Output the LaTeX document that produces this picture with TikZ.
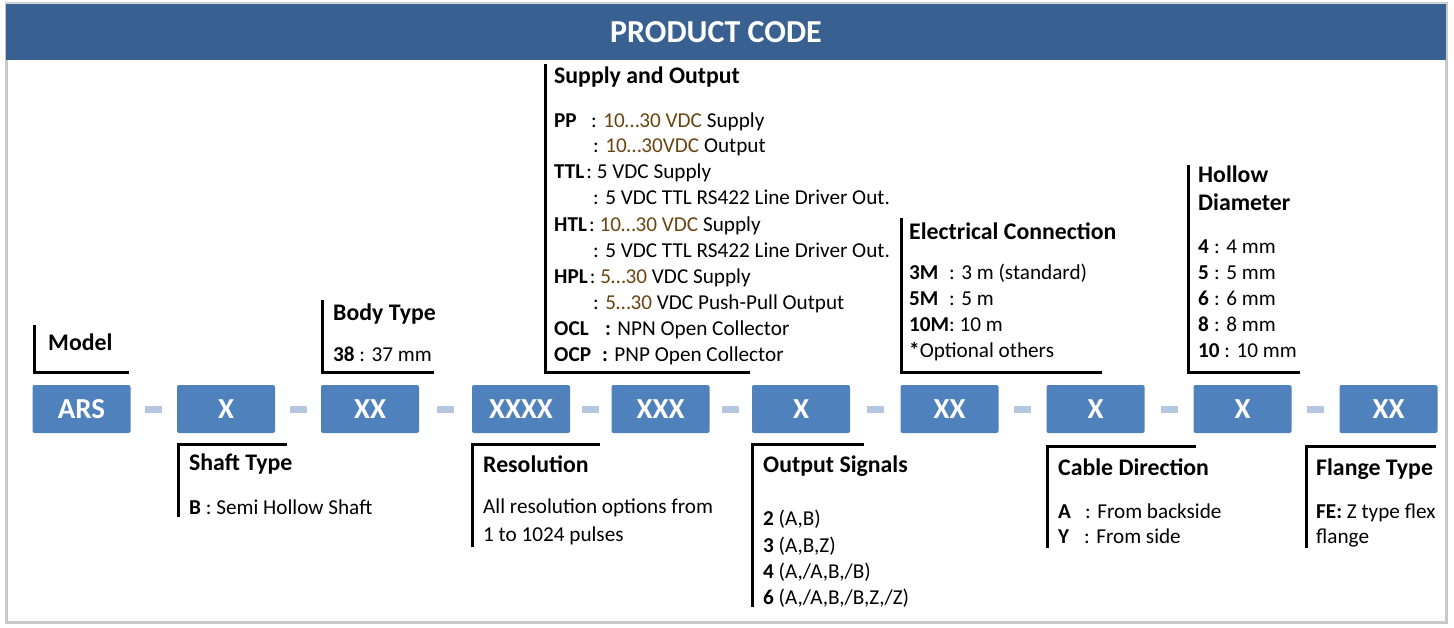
\documentclass[tikz,border=0pt]{standalone}
\usepackage{fontspec}
\setmainfont{Carlito}
\usetikzlibrary{calc}
\definecolor{headblue}{HTML}{386192}
\definecolor{boxblue}{HTML}{4F81BD}
\definecolor{dashblue}{HTML}{B4C6E0}
\definecolor{framegray}{HTML}{C8C8C8}
\definecolor{vdccol}{HTML}{6A4510}
\newcommand{\vc}[1]{\textcolor{vdccol}{#1}}
\begin{document}
\begin{tikzpicture}[x=1pt,y=-1pt,
  codebox/.style={fill=boxblue,text=white,font=\bfseries\fontsize{29}{29}\selectfont,minimum width=98pt,minimum height=48pt,rounded corners=2pt,inner sep=0pt},
  dashbox/.style={fill=dashblue,minimum width=17pt,minimum height=7pt,inner sep=0pt},
  head/.style={font=\bfseries\fontsize{23.8}{23.8}\selectfont,anchor=base west,inner sep=0pt},
  txt/.style={font=\fontsize{21.2}{21.2}\selectfont,anchor=base west,inner sep=0pt},
  bracket/.style={line width=3pt,black}]
\useasboundingbox (0,0) rectangle (1454,628);
% frame and header
\draw[framegray,line width=3pt] (6,4) rectangle (1446,622);
\fill[headblue] (6,4) rectangle (1446,60);
\draw[dashblue!60,line width=1pt] (6,4) -- (1446,4);
\node[text=white,font=\bfseries\fontsize{32}{32}\selectfont,inner sep=0pt] (title) at (716,32) {PRODUCT CODE};
% code boxes
\node[codebox] (b1) at (81.5,409) {ARS};
\node[codebox] (b2) at (226,409) {X};
\node[codebox] (b3) at (370,409) {XX};
\node[codebox] (b4) at (521,409) {XXXX};
\node[codebox] (b5) at (660.5,409) {XXX};
\node[codebox] (b6) at (801,409) {X};
\node[codebox] (b7) at (949.5,409) {XX};
\node[codebox] (b8) at (1095.5,409) {X};
\node[codebox] (b9) at (1242.5,409) {X};
\node[codebox] (b10) at (1388.5,409) {XX};
\foreach \a/\b in {b1/b2,b2/b3,b3/b4,b4/b5,b5/b6,b6/b7,b7/b8,b8/b9,b9/b10}
  \node[dashbox] (d\a) at ($(\a.east)!0.5!(\b.west)$) {};
% ---- top brackets
\draw[bracket] (34,325) -- (34,372) -- (129,372);
\node[head] (model) at (48,351) {Model};
\draw[bracket] (322,300) -- (322,372) -- (434,372);
\node[head] (body) at (333,321) {Body Type};
\node[txt] (body1) at (333,362) {\textbf{38} : 37 mm};
% supply and output
\draw[bracket] (545,64) -- (545,372) -- (750,372);
\node[head] (sup) at (554,84) {Supply and Output};
\node[txt] (s1l) at (554,128) {\textbf{PP}};
\node[txt] (s1) at (591,128) {: \vc{10…30 VDC} Supply};
\node[txt] (s2) at (593,153) {: \vc{10…30VDC} Output};
\node[txt] (s3) at (554,179) {\textbf{TTL}\hspace{2pt}: 5 VDC Supply};
\node[txt] (s4) at (593,205) {: 5 VDC TTL RS422 Line Driver Out.};
\node[txt] (s5) at (554,232) {\textbf{HTL}\hspace{2pt}: \vc{10…30 VDC} Supply};
\node[txt] (s6) at (593,258) {: 5 VDC TTL RS422 Line Driver Out.};
\node[txt] (s7) at (554,284) {\textbf{HPL}\hspace{2pt}: \vc{5…30} VDC Supply};
\node[txt] (s8) at (593,310) {: \vc{5…30} VDC Push-Pull Output};
\node[txt] (s9l) at (554,336) {\textbf{OCL}};
\node[txt] (s9) at (605,336) {\textbf{:} NPN Open Collector};
\node[txt] (s10l) at (554,362) {\textbf{OCP}};
\node[txt] (s10) at (602,362) {\textbf{:} PNP Open Collector};
% electrical connection
\draw[bracket] (901,218) -- (901,372) -- (1102,372);
\node[head] (elec) at (909,240) {Electrical Connection};
\node[txt] (e1l) at (909,280) {\textbf{3M}};
\node[txt] (e1) at (949,280) {: 3 m (standard)};
\node[txt] (e2l) at (909,306) {\textbf{5M}};
\node[txt] (e2) at (949,306) {: 5 m};
\node[txt] (e3) at (909,332) {\textbf{10M}: 10 m};
\node[txt] (e4) at (909,358) {\textbf{*}Optional others};
% hollow diameter
\draw[bracket] (1188,165) -- (1188,372) -- (1300,372);
\node[head] (hol1) at (1198,183) {Hollow};
\node[head] (hol2) at (1198,211) {Diameter};
\foreach \n/\yy in {4/254,5/280,6/306,8/332}{
  \node[txt] (h\n l) at (1198,\yy) {\textbf{\n}};
  \node[txt] (h\n) at (1214,\yy) {: \n\ mm};
}
\node[txt] (h10) at (1198,358) {\textbf{10} : 10 mm};
% ---- bottom brackets
\draw[bracket] (287,444) -- (178,444) -- (178,517);
\node[head] (shaft) at (189,470) {Shaft Type};
\node[txt] (shaft1) at (189,514) {\textbf{B} : Semi Hollow Shaft};
\draw[bracket] (600,444) -- (472,444) -- (472,547);
\node[head] (res) at (483,472) {Resolution};
\node[txt] (res1) at (483,513) {All resolution options from};
\node[txt] (res2) at (483,541) {1 to 1024 pulses};
\draw[bracket] (864,444) -- (752,444) -- (752,607);
\node[head] (outs) at (763,472) {Output Signals};
\node[txt] (o1) at (763,525) {\textbf{2} (A,B)};
\node[txt] (o2) at (763,552) {\textbf{3} (A,B,Z)};
\node[txt] (o3) at (763,578) {\textbf{4} (A,/A,B,/B)};
\node[txt] (o4) at (763,604) {\textbf{6} (A,/A,B,/B,Z,/Z)};
\draw[bracket] (1196,446) -- (1047,446) -- (1047,548);
\node[head] (cab) at (1058,475) {Cable Direction};
\node[txt] (c1l) at (1058,518) {\textbf{A}};
\node[txt] (c1) at (1085,518) {: From backside};
\node[txt] (c2l) at (1058,543) {\textbf{Y}};
\node[txt] (c2) at (1084,543) {: From side};
\draw[bracket] (1436,446) -- (1306,446) -- (1306,548);
\node[head] (fl) at (1316,475) {Flange Type};
\node[txt] (f1) at (1316,518) {\textbf{FE:} Z type flex};
\node[txt] (f2) at (1316,543) {flange};
\end{tikzpicture}
\end{document}
